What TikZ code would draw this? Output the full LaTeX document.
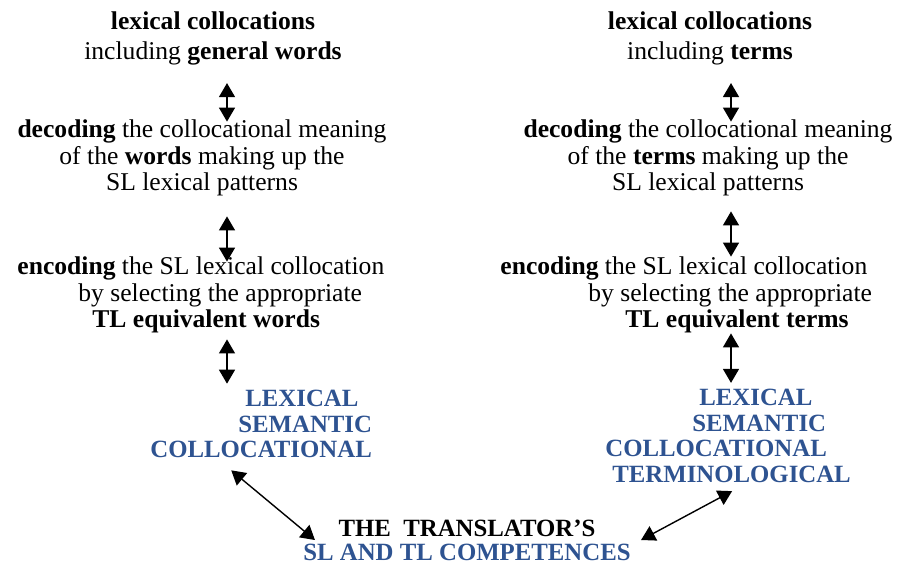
\documentclass[tikz,border=0pt]{standalone}
\usepackage{fontspec}
\setmainfont{Liberation Serif}
\usetikzlibrary{arrows.meta}
\definecolor{capsblue}{RGB}{46,83,145}

\begin{document}
\begin{tikzpicture}[x=0.5pt,y=-0.5pt,
    txt/.style={inner sep=0pt,font=\fontsize{12.8}{13.2}\selectfont},
    caps/.style={txt,text=capsblue,font=\fontsize{12.4}{12.8}\selectfont\bfseries,align=left},
    dbl/.style={{Triangle[length=7pt,width=8pt]}-{Triangle[length=7pt,width=8pt]},line width=0.7pt}]
    \useasboundingbox (0,0) rectangle (898,563);
    \coordinate (lx) at (227,0);
    \coordinate (rx) at (731,0);
    \node[txt,align=center,font=\fontsize{12.8}{15}\selectfont] (lcoll) at (213,38) {\textbf{lexical collocations}\\including \textbf{general words}};
    \node[txt,align=center] (ldec) at (202,158) {\textbf{decoding} the collocational meaning\\of the \textbf{words} making up the\\SL lexical patterns};
    \node[txt,align=left,anchor=west] (lenc) at (17,295) {\textbf{encoding} the SL lexical collocation\\\hspace*{30.5pt}by selecting the appropriate\\\hspace*{37.5pt}\textbf{TL equivalent words}};
    \node[caps,anchor=west] (lcomp) at (150,424) {\hspace*{47.5pt}LEXICAL\\\hspace*{44pt}SEMANTIC\\COLLOCATIONAL};
    \node[txt,align=center,font=\fontsize{12.8}{15}\selectfont] (rcoll) at (710,38) {\textbf{lexical collocations}\\including \textbf{terms}};
    \node[txt,align=center] (rdec) at (708,158) {\textbf{decoding} the collocational meaning\\of the \textbf{terms} making up the\\SL lexical patterns};
    \node[txt,align=left,anchor=west] (renc) at (500,295) {\textbf{encoding} the SL lexical collocation\\\hspace*{44pt}by selecting the appropriate\\\hspace*{62.5pt}\textbf{TL equivalent terms}};
    \node[caps,anchor=west] (rcomp) at (605,436) {\hspace*{47pt}LEXICAL\\\hspace*{43.5pt}SEMANTIC\\COLLOCATIONAL\\\hspace*{3.5pt}TERMINOLOGICAL};
    \node[txt,align=center,font=\fontsize{12.4}{12}\selectfont\bfseries] (trans) at (467,540) {THE\ \ TRANSLATOR'S\\\textcolor{capsblue}{SL AND TL COMPETENCES}};
    \draw[dbl] ([yshift=-9pt]lcoll.south -| lx) -- ([yshift=-1pt]ldec.north -| lx);
    \draw[dbl] ([yshift=-10pt]ldec.south -| lx) -- ([yshift=-2.5pt]lenc.north -| lx);
    \draw[dbl] ([yshift=-3pt]lenc.south -| lx) -- ([yshift=3pt]lcomp.north -| lx);
    \draw[dbl] ([yshift=-9pt]rcoll.south -| rx) -- ([yshift=-1pt]rdec.north -| rx);
    \draw[dbl] ([yshift=-7.5pt]rdec.south -| rx) -- (renc.north -| rx);
    \draw[dbl] ([yshift=0pt]renc.south -| rx) -- ([yshift=3pt]rcomp.north -| rx);
    \draw[dbl] ([shift={(-15pt,-6pt)}]lcomp.south) -- ([xshift=6pt]trans.west);
    \draw[dbl] ([xshift=5pt]trans.east) -- ([shift={(2pt,-4pt)}]rcomp.south);
\end{tikzpicture}
\end{document}
